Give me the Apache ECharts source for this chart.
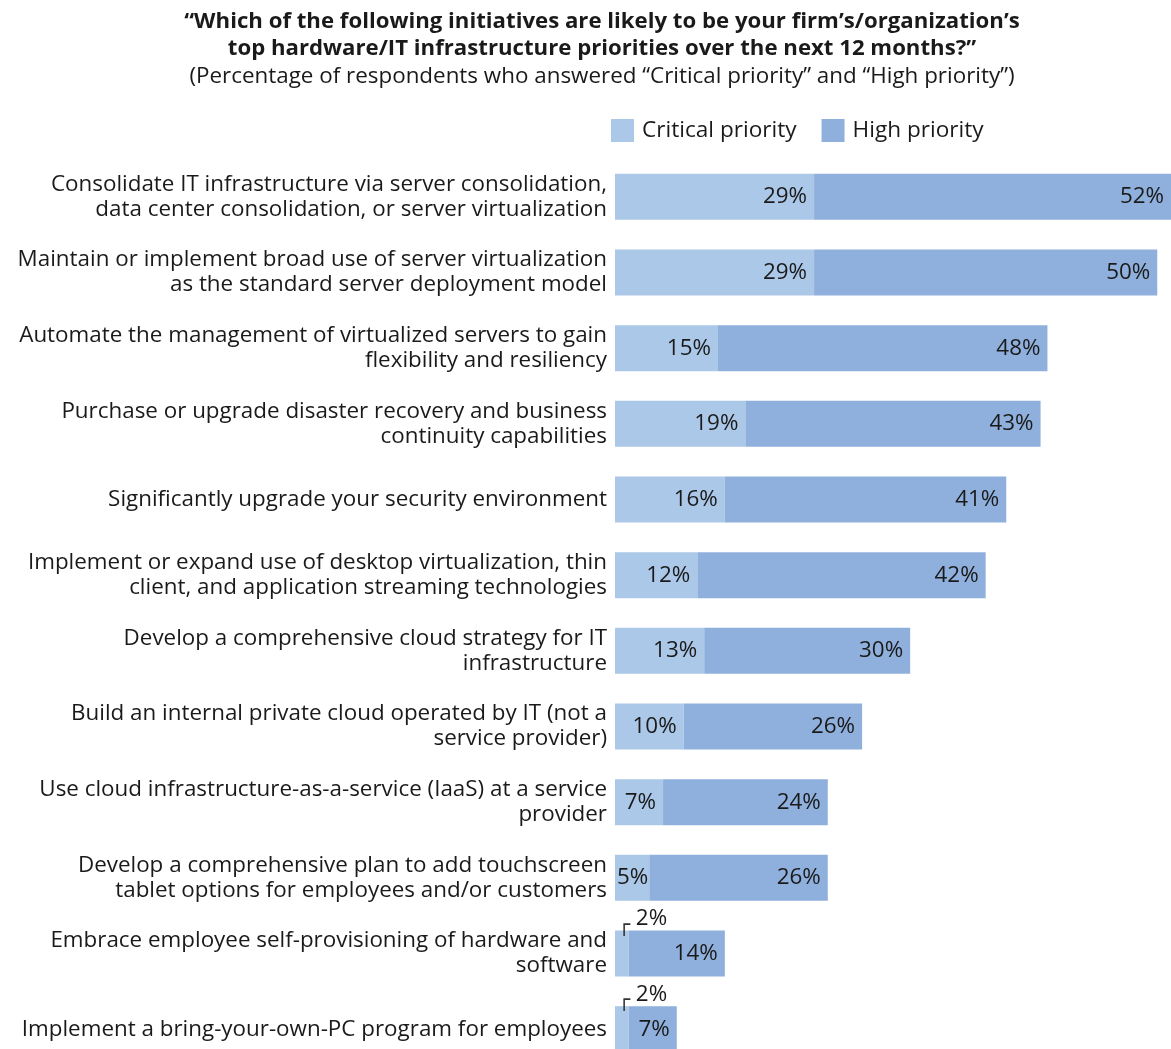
<!DOCTYPE html>
<html><head><meta charset="utf-8">
<script src="https://cdn.jsdelivr.net/npm/echarts@6/dist/echarts.min.js"></script>
<style>html,body{margin:0;padding:0;background:#fff;overflow:hidden}#c{width:1171px;height:1090px}</style>
</head><body><div id="c"></div>
<script>
const categories = [
  "Consolidate IT infrastructure via server consolidation,\ndata center consolidation, or server virtualization",
  "Maintain or implement broad use of server virtualization\nas the standard server deployment model",
  "Automate the management of virtualized servers to gain\nflexibility and resiliency",
  "Purchase or upgrade disaster recovery and business\ncontinuity capabilities",
  "Significantly upgrade your security environment",
  "Implement or expand use of desktop virtualization, thin\nclient, and application streaming technologies",
  "Develop a comprehensive cloud strategy for IT\ninfrastructure",
  "Build an internal private cloud operated by IT (not a\nservice provider)",
  "Use cloud infrastructure-as-a-service (IaaS) at a service\nprovider",
  "Develop a comprehensive plan to add touchscreen\ntablet options for employees and/or customers",
  "Embrace employee self-provisioning of hardware and\nsoftware",
  "Implement a bring-your-own-PC program for employees"
];
const critical = [29, 29, 15, 19, 16, 12, 13, 10, 7, 5, 2, 2];
const high = [52, 50, 48, 43, 41, 42, 30, 26, 24, 26, 14, 7];

const FONT = 'Open Sans';
const chart = echarts.init(document.getElementById('c'));
const critData = critical.map(v => {
  if (v <= 3) {
    return {value: v, label: {show: true, position: [3, -29], formatter: '{b|┌} {a|' + v + '%}',
      rich: {b: {fontSize: 20, color: '#333', fontFamily: 'DejaVu Sans', padding: [14,0,0,0]}, a: {fontSize: 22.4, color: '#1a1a1a', fontFamily: FONT}}}};
  }
  if (v < 6) {
    return {value: v, label: {distance: 1}};
  }
  return v;
});
chart.setOption({
  animation: false,
  title: {
    text: '\u201CWhich of the following initiatives are likely to be your firm\u2019s/organization\u2019s\ntop hardware/IT infrastructure priorities over the next 12 months?\u201D',
    subtext: '(Percentage of respondents who answered \u201CCritical priority\u201D and \u201CHigh priority\u201D)',
    left: 597, textAlign: 'center', top: 3, itemGap: 1,
    textStyle: {fontFamily: FONT, fontWeight: 'bold', fontSize: 22.2, color: '#1a1a1a', lineHeight: 27},
    subtextStyle: {fontFamily: FONT, fontSize: 22.4, color: '#1a1a1a', lineHeight: 27}
  },
  legend: {
    left: 611, top: 119, padding: 0, itemWidth: 23, itemHeight: 23, itemGap: 25, icon: 'rect',
    textStyle: {fontFamily: FONT, fontSize: 22.6, color: '#1a1a1a', padding: [0,0,0,3]},
    data: ['Critical priority', 'High priority']
  },
  grid: {left: 615, top: 159, width: 559, height: 908, containLabel: false},
  xAxis: {type: 'value', min: 0, max: 81, show: false},
  yAxis: {
    type: 'category', data: categories, inverse: true,
    axisLine: {show: false}, axisTick: {show: false},
    axisLabel: {fontFamily: FONT, fontSize: 22.4, color: '#1a1a1a', lineHeight: 25, margin: 8, align: 'right'}
  },
  series: [
    {name: 'Critical priority', type: 'bar', stack: 's', data: critData, barWidth: 46,
     itemStyle: {color: '#abc8e8'},
     label: {show: true, position: 'insideRight', distance: 7, formatter: '{c}%', fontFamily: FONT, fontSize: 22.4, color: '#1a1a1a'}},
    {name: 'High priority', type: 'bar', stack: 's', data: high, barWidth: 46,
     itemStyle: {color: '#8fb0dc'},
     label: {show: true, position: 'insideRight', distance: 7, formatter: '{c}%', fontFamily: FONT, fontSize: 22.4, color: '#1a1a1a'}}
  ]
});
</script></body></html>
